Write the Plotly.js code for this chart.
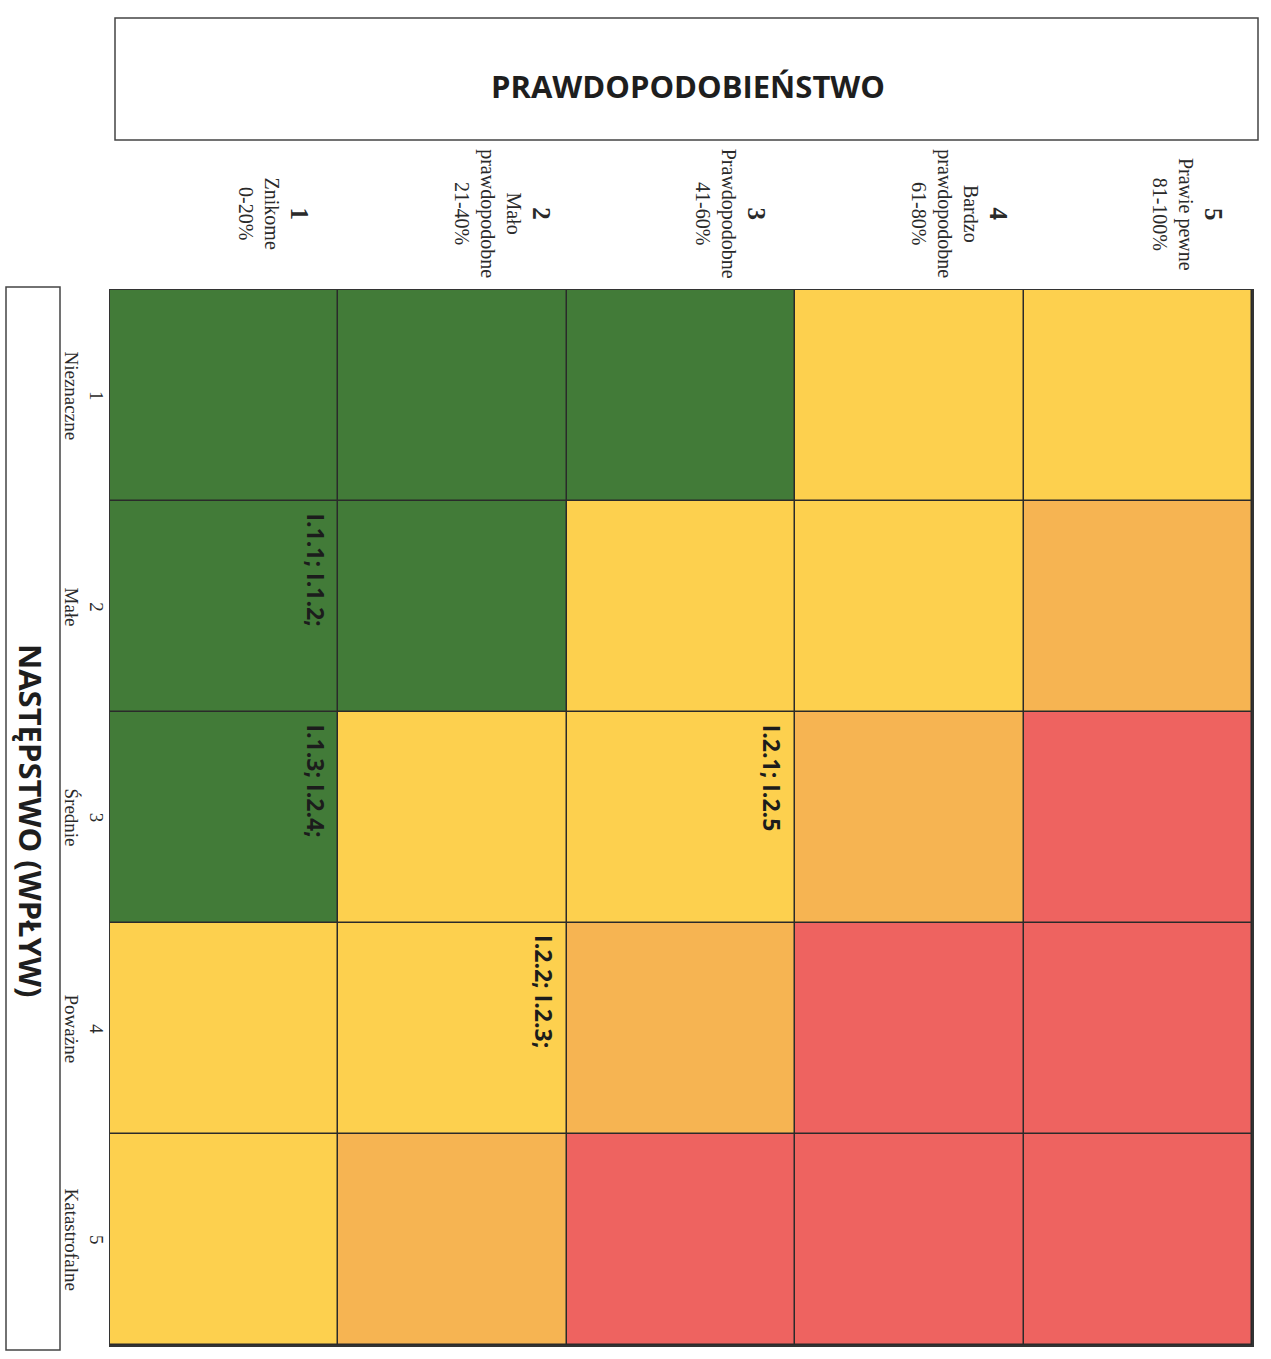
<!DOCTYPE html>
<html>
<head>
<meta charset="utf-8">
<script src="https://cdn.plot.ly/plotly-3.0.1.min.js"></script>
<style>html,body{margin:0;padding:0;background:#fff;}#chart{width:1271px;height:1359px;}</style>
</head>
<body>
<div id="chart"></div>
<script>
// ---- data ----
const probNumbers = [1, 2, 3, 4, 5];
const probLabels = ["Znikome<br>0-20%", "Mało<br>prawdopodobne<br>21-40%", "Prawdopodobne<br>41-60%", "Bardzo<br>prawdopodobne<br>61-80%", "Prawie pewne<br>81-100%"];
const impactNumbers = [1, 2, 3, 4, 5];
const impactLabels = ["Nieznaczne", "Małe", "Średnie", "Poważne", "Katastrofalne"];
// risk level per cell: rows = impact 1..5, columns = probability 1..5
const riskLevels = [
  [1, 1, 1, 2, 2],
  [1, 1, 2, 2, 3],
  [1, 2, 2, 3, 4],
  [2, 2, 3, 4, 4],
  [2, 3, 4, 4, 4]
];
const itemImpact = [2, 3, 3, 4];
const itemProb = [1, 1, 3, 2];
const itemText = ["I.1.1; I.1.2;", "I.1.3; I.2.4;", "I.2.1; I.2.5", "I.2.2; I.2.3;"];
const xTitle = "PRAWDOPODOBIEŃSTWO";
const yTitle = "NASTĘPSTWO (WPŁYW)";

// ---- layout helpers ----
const W = 1271, H = 1359, ML = 110, MR = 19, MT = 290, MB = 14;
const PW = W - ML - MR, PH = H - MT - MB;
const pX = px => (px - ML) / PW;
const pY = py => (H - MB - py) / PH;

const green = '#427b38', yellow = '#fdd04e', orange = '#f6b452', red = '#ee6360';

const trace = {
  type: 'heatmap',
  x: probNumbers,
  y: impactNumbers,
  z: riskLevels,
  zmin: 1, zmax: 4,
  colorscale: [
    [0, green], [0.25, green],
    [0.25, yellow], [0.5, yellow],
    [0.5, orange], [0.75, orange],
    [0.75, red], [1, red]
  ],
  showscale: false,
  xgap: 1.5, ygap: 1.5,
  hoverinfo: 'skip'
};

const annotations = [];
// top title
annotations.push({xref: 'paper', yref: 'paper', x: pX(688), y: pY(86), xanchor: 'center', yanchor: 'middle',
  text: '<b>' + xTitle + '</b>',
  showarrow: false, font: {family: 'Open Sans', size: 31, color: '#1e1e1e'}});
// left title
annotations.push({xref: 'paper', yref: 'paper', x: pX(31), y: pY(820), xanchor: 'center', yanchor: 'middle',
  text: '<b>' + yTitle + '</b>',
  textangle: 90, showarrow: false, font: {family: 'Open Sans', size: 31, color: '#1e1e1e'}});
// column headers
probNumbers.forEach((n, i) => {
  annotations.push({xref: 'x', yref: 'paper', x: n + 0.22, y: pY(214), xanchor: 'center', yanchor: 'middle',
    textangle: 90, showarrow: false, align: 'center',
    text: '<span style="font-size:25px;font-weight:bold">' + n + '</span><br>' + probLabels[i],
    font: {family: 'Liberation Serif', size: 20, color: '#2a2a2a'}});
});
// row labels
impactNumbers.forEach((n, i) => {
  annotations.push({xref: 'paper', yref: 'y', x: pX(84), y: n, xanchor: 'center', yanchor: 'middle',
    textangle: 90, showarrow: false, align: 'center',
    text: n + '<br>' + impactLabels[i],
    font: {family: 'Liberation Serif', size: 19, color: '#2a2a2a'}});
});
// cell items
itemText.forEach((t, i) => {
  annotations.push({xref: 'x', yref: 'y', x: itemProb[i] + 0.4, y: itemImpact[i] - 0.45,
    xanchor: 'center', yanchor: 'top', textangle: 90, showarrow: false, text: '<b>' + t + '</b>',
    font: {family: 'Open Sans', size: 23, color: '#1c1c1c'}});
});

const shapes = [
  {type: 'rect', xref: 'paper', yref: 'paper', x0: pX(115), x1: pX(1258), y0: pY(140), y1: pY(18),
    line: {color: '#444', width: 1.5}, fillcolor: 'rgba(0,0,0,0)'},
  {type: 'rect', xref: 'paper', yref: 'paper', x0: pX(6), x1: pX(60), y0: pY(1350), y1: pY(287),
    line: {color: '#444', width: 1.5}, fillcolor: 'rgba(0,0,0,0)'}
];

const layout = {
  width: W, height: H,
  margin: {l: ML, r: MR, t: MT, b: MB},
  paper_bgcolor: '#ffffff',
  plot_bgcolor: '#2a2a2a',
  showlegend: false,
  xaxis: {range: [0.5, 5.5], showticklabels: false, ticks: '', showgrid: false, zeroline: false,
    showline: true, mirror: true, linecolor: '#333', linewidth: 1.5, fixedrange: true},
  yaxis: {range: [5.5, 0.5], showticklabels: false, ticks: '', showgrid: false, zeroline: false,
    showline: true, mirror: true, linecolor: '#333', linewidth: 1.5, fixedrange: true},
  annotations: annotations,
  shapes: shapes
};

Plotly.newPlot('chart', [trace], layout, {staticPlot: true, displayModeBar: false});
</script>
</body>
</html>
